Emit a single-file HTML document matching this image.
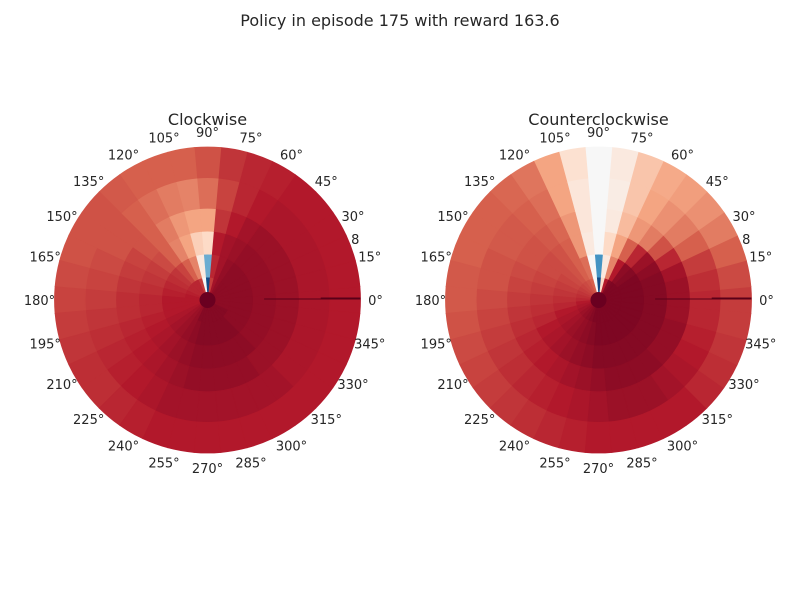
<!DOCTYPE html>
<html><head><meta charset="utf-8"><style>
body{margin:0;background:#fff;width:800px;height:600px;overflow:hidden}
svg text{font-family:"DejaVu Sans","Liberation Sans",sans-serif;fill:#262626}
</style></head><body>
<svg id="chart" width="800" height="600" viewBox="0 0 800 600">
<text x="400" y="26" font-size="16" text-anchor="middle">Policy in episode 175 with reward 163.6</text>
<g id="p0"></g>
<g id="p1"></g>
</svg>
<script>
// angular bin centers (degrees, 10° bins)
const angles = [0,10,20,30,40,50,60,70,80,90,100,110,120,130,140,150,160,170,180,190,200,210,220,230,240,250,260,270,280,290,300,310,320,330,340,350];
// radial ring edges (fraction of radius)
const ringEdges = [0.05,0.15,0.3,0.45,0.6,0.8,1.0];
const thetaTicks = [0,15,30,45,60,75,90,105,120,135,150,165,180,195,210,225,240,255,270,285,300,315,330,345];
const panelTitles = ["Clockwise","Counterclockwise"];
// values 0..1 (0 = blue, 0.5 = white, 1 = dark red), ring inner -> outer
const clockwiseValues = [
[.95,.95,.95,.95,.95,.95,.94,.92,.85,.05,.5,.85,.88,.88,.88,.88,.89,.9,.9,.9,.9,.91,.92,.93,.94,.96,.96,.96,.96,.96,.96,.96,.96,.96,.95,.95],
[.95,.95,.95,.95,.95,.95,.94,.92,.88,.25,.55,.75,.8,.84,.86,.87,.88,.89,.9,.9,.9,.91,.92,.93,.94,.95,.96,.96,.96,.96,.96,.96,.95,.95,.95,.95],
[.94,.94,.94,.94,.94,.94,.93,.92,.9,.6,.62,.7,.75,.8,.83,.85,.86,.87,.88,.88,.89,.9,.91,.92,.93,.94,.95,.95,.95,.95,.95,.95,.94,.94,.94,.94],
[.93,.93,.93,.93,.93,.93,.92,.9,.86,.7,.7,.72,.76,.8,.82,.84,.85,.86,.87,.87,.88,.89,.9,.91,.92,.93,.94,.94,.94,.94,.94,.93,.93,.93,.93,.93],
[.91,.91,.91,.91,.91,.91,.9,.88,.84,.78,.75,.76,.78,.8,.82,.82,.83,.84,.85,.86,.87,.88,.89,.9,.91,.92,.92,.92,.92,.92,.92,.92,.91,.91,.91,.91],
[.9,.9,.9,.9,.9,.9,.89,.88,.86,.82,.8,.8,.8,.81,.82,.82,.82,.83,.84,.85,.86,.87,.87,.88,.89,.9,.9,.9,.9,.9,.9,.9,.9,.9,.9,.9]];
const counterValues = [
[.97,.97,.97,.97,.97,.97,.96,.9,.6,.05,.5,.8,.82,.83,.84,.85,.86,.87,.88,.9,.91,.92,.93,.94,.95,.96,.97,.97,.97,.97,.97,.97,.97,.97,.97,.97],
[.97,.97,.97,.97,.96,.95,.9,.75,.55,.2,.5,.78,.8,.82,.83,.84,.85,.86,.87,.88,.9,.91,.92,.93,.94,.95,.96,.97,.97,.97,.97,.97,.97,.97,.97,.97],
[.96,.96,.96,.95,.93,.88,.8,.7,.6,.5,.55,.72,.8,.82,.83,.83,.84,.85,.86,.87,.88,.9,.91,.92,.93,.94,.95,.96,.96,.96,.96,.96,.96,.96,.96,.96],
[.93,.93,.92,.88,.82,.76,.72,.66,.55,.5,.56,.72,.79,.81,.82,.82,.83,.84,.85,.86,.87,.88,.89,.9,.91,.92,.93,.94,.95,.95,.95,.95,.94,.94,.94,.93],
[.88,.87,.85,.8,.76,.73,.7,.64,.54,.5,.56,.7,.78,.8,.81,.81,.82,.82,.83,.84,.85,.86,.87,.88,.89,.9,.91,.92,.93,.93,.93,.92,.91,.9,.89,.88],
[.85,.83,.8,.76,.73,.71,.69,.64,.55,.5,.58,.7,.77,.79,.8,.8,.8,.81,.81,.82,.83,.84,.85,.86,.87,.88,.89,.9,.9,.9,.9,.9,.88,.87,.86,.85]];
const panelValues = [clockwiseValues, counterValues];

const cmap = ["#053061","#2166ac","#4393c3","#92c5de","#d1e5f0","#f7f7f7","#fddbc7","#f4a582","#d6604d","#b2182b","#67001f"];
function hex(h){return [1,3,5].map(i=>parseInt(h.substr(i,2),16));}
function color(v){
  v=Math.max(0,Math.min(1,v));const t=v*10,i=Math.min(9,Math.floor(t)),f=t-i;
  const a=hex(cmap[i]),b=hex(cmap[i+1]);
  return "rgb("+a.map((x,k)=>Math.round(x+(b[k]-x)*f)).join(",")+")";
}
const NS="http://www.w3.org/2000/svg";
const R=153, cy=300, centers=[207.5,598.5];
function pt(cx,r,deg){const a=deg*Math.PI/180;return [cx+r*Math.cos(a),cy-r*Math.sin(a)];}
panelValues.forEach((vals,p)=>{
  const g=document.getElementById("p"+p), cx=centers[p];
  vals.forEach((row,ri)=>{
    const r0=ringEdges[ri]*R, r1=ringEdges[ri+1]*R;
    row.forEach((v,ai)=>{
      const a0=angles[ai]-5, a1=angles[ai]+5;
      const A=pt(cx,r0,a0),B=pt(cx,r1,a0),C=pt(cx,r1,a1),D=pt(cx,r0,a1);
      const path=document.createElementNS(NS,"path");
      path.setAttribute("d",`M${A}L${B}A${r1},${r1} 0 0 0 ${C}L${D}A${r0},${r0} 0 0 1 ${A}Z`);
      const c=color(v);
      path.setAttribute("fill",c);
      path.setAttribute("stroke",c);
      path.setAttribute("stroke-width","0.8");
      
      
      g.appendChild(path);
    });
  });
  const dot=document.createElementNS(NS,"circle");
  dot.setAttribute("cx",cx);dot.setAttribute("cy",cy);dot.setAttribute("r",8);dot.setAttribute("fill","#6a0020");
  
  
  g.appendChild(dot);
  const l1=document.createElementNS(NS,"line");
  l1.setAttribute("x1",cx+0.37*R);l1.setAttribute("x2",cx+R);l1.setAttribute("y1",cy-1);l1.setAttribute("y2",cy-1);
  l1.setAttribute("stroke","#5a0018");l1.setAttribute("stroke-width","1");
  
  
  g.appendChild(l1);
  const l2=document.createElementNS(NS,"line");
  l2.setAttribute("x1",cx+0.74*R);l2.setAttribute("x2",cx+R);l2.setAttribute("y1",cy-1.5);l2.setAttribute("y2",cy-1.5);
  l2.setAttribute("stroke","#5a0018");l2.setAttribute("stroke-width","2");
  
  
  g.appendChild(l2);
  thetaTicks.forEach(t=>{
    const [x,y]=pt(cx,168,t);
    const tx=document.createElementNS(NS,"text");
    tx.setAttribute("x",x);tx.setAttribute("y",y+5);tx.setAttribute("font-size","13");tx.setAttribute("text-anchor","middle");
    tx.textContent=t+"°";
    
    
    g.appendChild(tx);
  });
  const [rx,ry]=pt(cx,160,22.5);
  const rt=document.createElementNS(NS,"text");
  rt.setAttribute("x",rx);rt.setAttribute("y",ry+5);rt.setAttribute("font-size","13");rt.setAttribute("text-anchor","middle");
  rt.textContent="8";
  
  
  g.appendChild(rt);
  const tt=document.createElementNS(NS,"text");
  tt.setAttribute("x",cx);tt.setAttribute("y",125);tt.setAttribute("font-size","16");tt.setAttribute("text-anchor","middle");
  tt.textContent=panelTitles[p];
  
  
  g.appendChild(tt);
});
</script>
</body></html>
